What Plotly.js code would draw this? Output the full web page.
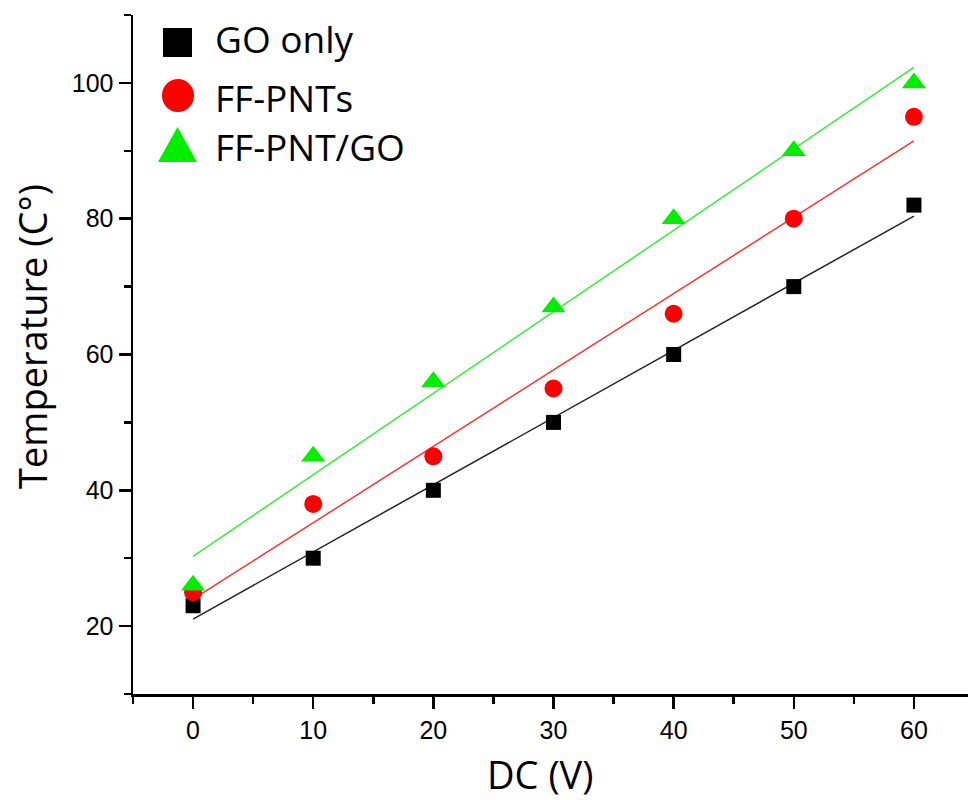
<!DOCTYPE html>
<html>
<head>
<meta charset="utf-8">
<script src="https://cdn.plot.ly/plotly-3.0.1.min.js"></script>
<style>html,body{margin:0;padding:0;background:#fff;}#chart{width:968px;height:800px;}</style>
</head>
<body>
<div id="chart"></div>
<script>
// Data
const voltage = [0, 10, 20, 30, 40, 50, 60];
const goOnly  = [23, 30, 40, 50, 60, 70, 82];
const ffPnts  = [25, 38, 45, 55, 66, 80, 95];
const ffPntGo = [26, 45, 56, 67, 80, 90, 100];
const seriesNames = ['GO only', 'FF-PNTs', 'FF-PNT/GO'];
const xTicks = [0, 10, 20, 30, 40, 50, 60];
const yTicks = [20, 40, 60, 80, 100];

// least-squares linear fit
function fit(xs, ys) {
  const n = xs.length;
  const mx = xs.reduce((a, b) => a + b, 0) / n;
  const my = ys.reduce((a, b) => a + b, 0) / n;
  let sxy = 0, sxx = 0;
  for (let i = 0; i < n; i++) { sxy += (xs[i] - mx) * (ys[i] - my); sxx += (xs[i] - mx) ** 2; }
  const m = sxy / sxx, b = my - m * mx;
  const xe = [Math.min(...xs), Math.max(...xs)];
  return { x: xe, y: xe.map(v => m * v + b) };
}

const styles = [
  { color: '#000000', line: '#222222', symbol: 'square', size: 15 },
  { color: '#ff0000', line: '#ff3030', symbol: 'circle', size: 18 },
  { color: '#00ee00', line: '#33ee33', symbol: 'triangle-up', size: 21 }
];
const ys = [goOnly, ffPnts, ffPntGo];

const traces = [];
ys.forEach((y, i) => {
  const f = fit(voltage, y);
  traces.push({ x: f.x, y: f.y, mode: 'lines', line: { color: styles[i].line, width: 1.5 }, showlegend: false, hoverinfo: 'skip' });
});
ys.forEach((y, i) => {
  traces.push({ x: voltage, y: y, mode: 'markers', name: seriesNames[i], showlegend: false,
    marker: { symbol: styles[i].symbol, size: styles[i].size, color: styles[i].color, line: { width: 0 } } });
});

// pixel -> paper helpers for the legend block (plot area: x 133..968, y 15..694)
const L = 133, W = 835, B = 694, H = 679;
const px = v => (v - L) / W;
const py = v => (B - v) / H;

const shapes = [
  { type: 'rect', xref: 'paper', yref: 'paper', x0: px(163), x1: px(192), y0: py(57), y1: py(28), fillcolor: '#000', line: { width: 0 } },
  { type: 'circle', xref: 'paper', yref: 'paper', x0: px(162), x1: px(194), y0: py(112), y1: py(79), fillcolor: '#ff0000', line: { width: 0 } },
  { type: 'path', xref: 'paper', yref: 'paper',
    path: `M ${px(158)} ${py(162)} L ${px(197)} ${py(162)} L ${px(177.5)} ${py(127)} Z`, fillcolor: '#00ee00', line: { width: 0 } }
];

const legFont = { family: 'Open Sans, Noto Sans, sans-serif', size: 37, color: '#000' };
const annotations = [
  { xref: 'paper', yref: 'paper', x: px(213), y: py(39), xanchor: 'left', yanchor: 'middle', text: seriesNames[0], showarrow: false, font: legFont },
  { xref: 'paper', yref: 'paper', x: px(213), y: py(97), xanchor: 'left', yanchor: 'middle', text: seriesNames[1], showarrow: false, font: legFont },
  { xref: 'paper', yref: 'paper', x: px(213), y: py(146), xanchor: 'left', yanchor: 'middle', text: seriesNames[2], showarrow: false, font: legFont },
  { xref: 'paper', yref: 'paper', x: px(540), y: py(774), xanchor: 'center', yanchor: 'middle', text: 'DC (V)', showarrow: false,
    font: { family: 'Open Sans, Noto Sans, sans-serif', size: 38, color: '#000' } },
  { xref: 'paper', yref: 'paper', x: px(32), y: py(337), xanchor: 'center', yanchor: 'middle', text: 'Temperature (C°)', textangle: -90, showarrow: false,
    font: { family: 'Open Sans, Noto Sans, sans-serif', size: 38, color: '#000' } }
];

const tickFont = { family: 'Liberation Sans, Arial, sans-serif', size: 25, color: '#000' };
const layout = {
  width: 968, height: 800,
  margin: { l: L, r: 0, t: 15, b: 800 - B },
  paper_bgcolor: '#fff', plot_bgcolor: '#fff',
  showlegend: false,
  xaxis: {
    range: [-5, 64.5], tickvals: xTicks, ticktext: xTicks.map(String),
    showgrid: false, zeroline: false, showline: true, linecolor: '#000', linewidth: 2.5,
    ticks: 'outside', ticklen: 12, tickwidth: 2.5, tickcolor: '#000', tickfont: tickFont,
    minor: { dtick: 5, tick0: 0, ticks: 'outside', ticklen: 7, tickwidth: 2.5, tickcolor: '#000', showgrid: false },
    mirror: false
  },
  yaxis: {
    range: [10, 110], tickvals: yTicks, ticktext: yTicks.map(String),
    showgrid: false, zeroline: false, showline: true, linecolor: '#000', linewidth: 2.5,
    ticks: 'outside', ticklen: 12, tickwidth: 2.5, tickcolor: '#000', tickfont: tickFont,
    minor: { dtick: 10, tick0: 0, ticks: 'outside', ticklen: 7, tickwidth: 2.5, tickcolor: '#000', showgrid: false },
    mirror: false
  },
  shapes: shapes,
  annotations: annotations
};

Plotly.newPlot('chart', traces, layout, { displayModeBar: false, staticPlot: true });
</script>
</body>
</html>
